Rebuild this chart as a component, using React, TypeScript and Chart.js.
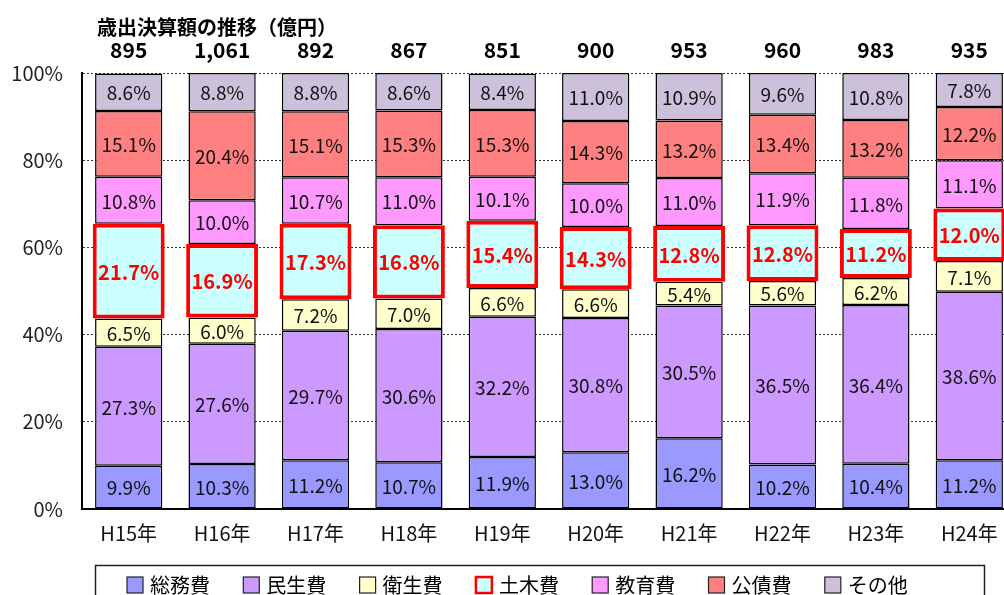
import React, { useEffect, useRef } from "react";
import { Chart, registerables } from "chart.js";

Chart.register(...registerables);

const categories = ["H15年", "H16年", "H17年", "H18年", "H19年", "H20年", "H21年", "H22年", "H23年", "H24年"];
const totals = ["895", "1,061", "892", "867", "851", "900", "953", "960", "983", "935"];
const titleText = "歳出決算額の推移（億円）";

const seriesNames = ["総務費", "民生費", "衛生費", "土木費", "教育費", "公債費", "その他"];
const soumu = [9.9, 10.3, 11.2, 10.7, 11.9, 13.0, 16.2, 10.2, 10.4, 11.2];
const minsei = [27.3, 27.6, 29.7, 30.6, 32.2, 30.8, 30.5, 36.5, 36.4, 38.6];
const eisei = [6.5, 6.0, 7.2, 7.0, 6.6, 6.6, 5.4, 5.6, 6.2, 7.1];
const doboku = [21.7, 16.9, 17.3, 16.8, 15.4, 14.3, 12.8, 12.8, 11.2, 12.0];
const kyouiku = [10.8, 10.0, 10.7, 11.0, 10.1, 10.0, 11.0, 11.9, 11.8, 11.1];
const kousai = [15.1, 20.4, 15.1, 15.3, 15.3, 14.3, 13.2, 13.4, 13.2, 12.2];
const sonota = [8.6, 8.8, 8.8, 8.6, 8.4, 11.0, 10.9, 9.6, 10.8, 7.8];
const yTicks = [0, 20, 40, 60, 80, 100];

const seriesValues = [soumu, minsei, eisei, doboku, kyouiku, kousai, sonota];
const fillColors = ["#9999FF", "#CC99FF", "#FFFFCC", "#CCFFFF", "#FF99FF", "#FF8080", "#CCC0DA"];
const HIGHLIGHT = 3;

const FONT = '"Noto Sans CJK JP", "Noto Sans", sans-serif';

const labelPlugin = {
  id: "segLabels",
  afterDatasetsDraw(chart: any) {
    const ctx = chart.ctx;
    ctx.save();
    chart.data.datasets.forEach((ds: any, di: number) => {
      const meta = chart.getDatasetMeta(di);
      meta.data.forEach((el: any, i: number) => {
        const p = el.getProps(["x", "y", "base"], true);
        const cy = (p.y + p.base) / 2;
        const red = di === HIGHLIGHT;
        ctx.font = red ? `bold 20px ${FONT}` : `19px ${FONT}`;
        ctx.fillStyle = red ? "#FF0000" : "#111111";
        ctx.textAlign = "center";
        ctx.textBaseline = "middle";
        ctx.fillText(Number(ds.data[i]).toFixed(1) + "%", p.x, cy + 1);
      });
    });
    ctx.restore();
  },
  afterDraw(chart: any) {
    const ctx = chart.ctx;
    ctx.save();
    // title
    ctx.font = `bold 20px ${FONT}`;
    ctx.fillStyle = "#000";
    ctx.textAlign = "left";
    ctx.textBaseline = "middle";
    ctx.fillText(titleText, 97, 27);
    // legend
    ctx.lineWidth = 1.5;
    ctx.strokeStyle = "#222";
    ctx.strokeRect(95.5, 565.5, 889, 60);
    chart.data.datasets.forEach((ds: any, di: number) => {
      const bx = 127 + di * 116.3;
      ctx.fillStyle = ds.backgroundColor;
      ctx.fillRect(bx, 577, 16, 16);
      ctx.lineWidth = di === HIGHLIGHT ? 2.5 : 1.2;
      ctx.strokeStyle = di === HIGHLIGHT ? "#FF0000" : "#222";
      ctx.strokeRect(bx, 577, 16, 16);
      ctx.font = `20px ${FONT}`;
      ctx.fillStyle = "#000";
      ctx.textAlign = "left";
      ctx.textBaseline = "middle";
      ctx.fillText(ds.label, bx + 23, 585);
    });
    ctx.restore();
  },
};

export default function App() {
  const ref = useRef<HTMLCanvasElement>(null);
  useEffect(() => {
    if (!ref.current) return;
    const chart = new Chart(ref.current, {
      type: "bar",
      data: {
        labels: categories,
        datasets: seriesNames.map((name, i) => ({
          label: name,
          data: seriesValues[i],
          backgroundColor: fillColors[i],
          borderColor: i === HIGHLIGHT ? "#FF0000" : "#000000",
          borderWidth: i === HIGHLIGHT ? 4 : 1.5,
          borderSkipped: false,
          barPercentage: i === HIGHLIGHT ? 0.77 : 0.72,
          categoryPercentage: 1.0,
          stack: "s",
        })),
      },
      options: {
        animation: false,
        responsive: false,
        layout: { padding: { left: 0, right: 4, top: 0, bottom: 0 } },
        plugins: {
          legend: { display: false },
          tooltip: { enabled: false },
          title: { display: false },
        },
        scales: {
          x: {
            stacked: true,
            offset: true,
            grid: { display: false, drawTicks: false },
            border: { display: true, color: "#000", width: 2 },
            ticks: { font: { family: FONT, size: 20 }, color: "#111", padding: 12 },
            afterFit: (s: any) => { s.height = 86; },
          },
          x2: {
            type: "category",
            position: "top",
            labels: totals,
            offset: true,
            grid: { display: false, drawTicks: false },
            border: { display: false },
            ticks: { font: { family: FONT, size: 21, weight: "bold" }, color: "#000", padding: 10 },
            afterFit: (s: any) => { s.height = 73; },
          },
          y: {
            stacked: true,
            min: 0,
            max: 100,
            afterBuildTicks: (s: any) => { s.ticks = yTicks.map((v) => ({ value: v })); },
            ticks: {
              font: { family: FONT, size: 20 },
              color: "#222",
              padding: 19,
              callback: (v: any) => v + "%",
            },
            grid: {
              drawTicks: false,
              lineWidth: 1,
              color: (c: any) => (c.tick && c.tick.value === 0 ? "rgba(0,0,0,0)" : "#333"),
            },
            border: { display: true, color: "#000", width: 2, dash: [2, 2] },
            afterFit: (s: any) => { s.width = 82; },
          },
        },
      },
      plugins: [labelPlugin],
    } as any);
    return () => chart.destroy();
  }, []);
  return (
    <div style={{ position: "absolute", left: 0, top: 0, width: 1004, height: 595, overflow: "hidden", background: "#fff" }}>
      <canvas ref={ref} width={1020} height={595} style={{ display: "block" }} />
    </div>
  );
}
